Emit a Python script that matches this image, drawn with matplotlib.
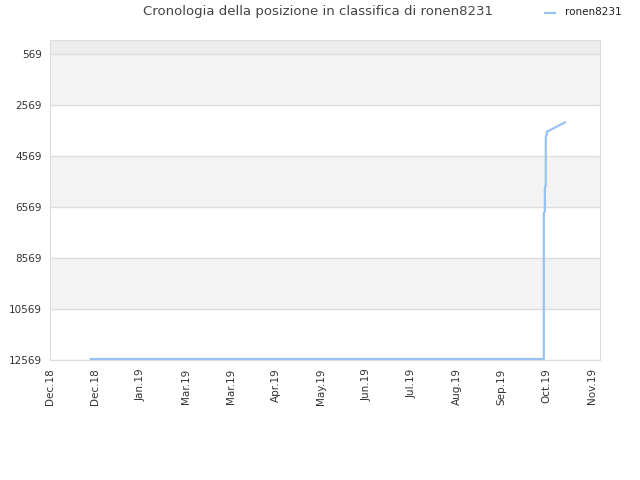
import matplotlib
matplotlib.use("Agg")
from matplotlib import pyplot as plt
from matplotlib.lines import Line2D

# ranking history (x = days since start of axis, y = rank)
days = [27, 328, 328, 328.7, 328.7, 329.3, 329.3, 330, 330, 342]
ranks = [12530, 12530, 6800, 6750, 5790, 5750, 3810, 3760, 3620, 3250]

tick_labels = ["Dec.18", "Dec.18", "Jan.19", "Mar.19", "Mar.19", "Apr.19", "May.19",
               "Jun.19", "Jul.19", "Aug.19", "Sep.19", "Oct.19", "Nov.19"]
y_ticks = [569, 2569, 4569, 6569, 8569, 10569, 12569]
step = 30

fig = plt.figure(figsize=(6.4, 4.8), dpi=100)
ax = fig.add_axes([50/640, 1-360/480, 550/640, 320/480])

ymin, ymax = 20, 12569
ax.set_ylim(ymax, ymin)
xmax = step * (12 + 8/45.17)
ax.set_xlim(0, xmax)

# alternating bands
ax.axhspan(ymin, 569, color="#ececec", zorder=0, lw=0)
for i in range(len(y_ticks) - 1):
    if i % 2 == 0:
        ax.axhspan(y_ticks[i], y_ticks[i+1], color="#f3f3f3", zorder=0, lw=0)
for t in y_ticks:
    ax.axhline(t, color="#dddddd", lw=1, zorder=1)

ax.plot(days, ranks, color="#99c2f0", lw=1.6, zorder=3)

ax.set_yticks(y_ticks)
ax.set_yticklabels([str(t) for t in y_ticks])
ax.set_xticks([i * step for i in range(len(tick_labels))])
ax.set_xticklabels(tick_labels, rotation=90)
ax.tick_params(length=0, labelsize=7.5, colors="#333333", pad=6)
for s in ax.spines.values():
    s.set_color("#dddddd")

fig.text(318/640, 1-12/480, "Cronologia della posizione in classifica di ronen8231",
         ha="center", va="center", fontsize=9.5, color="#444444")
fig.lines.append(Line2D([545/640, 555/640], [1-13/480, 1-13/480], color="#99c2f0", lw=1.6,
                        transform=fig.transFigure))
fig.text(565/640, 1-12/480, "ronen8231", ha="left", va="center", fontsize=7.5, color="#222222")

fig.savefig("out.png", dpi=100)
